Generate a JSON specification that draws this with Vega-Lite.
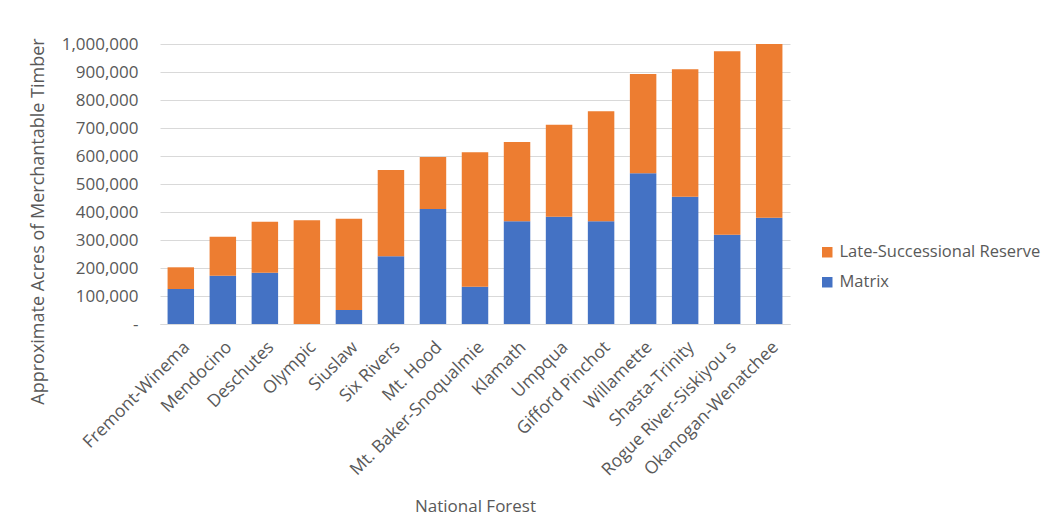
{
  "$schema": "https://vega.github.io/schema/vega-lite/v6.json",
  "width": 630,
  "height": 280,
  "autosize": "none",
  "padding": {"left": 160, "top": 44, "right": 263, "bottom": 200},
  "background": "white",
  "config": {
    "font": "Open Sans",
    "view": {"stroke": null},
    "axis": {"labelColor": "#595959", "titleColor": "#595959", "labelFont": "Open Sans", "titleFont": "Open Sans", "titleFontWeight": "normal"}
  },
  "data": {
    "values": [
      {"forest": "Fremont-Winema", "type": "Matrix", "acres": 125000, "ord": 0},
      {"forest": "Fremont-Winema", "type": "Late-Successional Reserve", "acres": 77500, "ord": 1},
      {"forest": "Mendocino", "type": "Matrix", "acres": 172600, "ord": 0},
      {"forest": "Mendocino", "type": "Late-Successional Reserve", "acres": 139400, "ord": 1},
      {"forest": "Deschutes", "type": "Matrix", "acres": 183300, "ord": 0},
      {"forest": "Deschutes", "type": "Late-Successional Reserve", "acres": 182200, "ord": 1},
      {"forest": "Olympic", "type": "Matrix", "acres": 0, "ord": 0},
      {"forest": "Olympic", "type": "Late-Successional Reserve", "acres": 370200, "ord": 1},
      {"forest": "Siuslaw", "type": "Matrix", "acres": 50000, "ord": 0},
      {"forest": "Siuslaw", "type": "Late-Successional Reserve", "acres": 326200, "ord": 1},
      {"forest": "Six Rivers", "type": "Matrix", "acres": 241700, "ord": 0},
      {"forest": "Six Rivers", "type": "Late-Successional Reserve", "acres": 308300, "ord": 1},
      {"forest": "Mt. Hood", "type": "Matrix", "acres": 410700, "ord": 0},
      {"forest": "Mt. Hood", "type": "Late-Successional Reserve", "acres": 185700, "ord": 1},
      {"forest": "Mt. Baker-Snoqualmie", "type": "Matrix", "acres": 133300, "ord": 0},
      {"forest": "Mt. Baker-Snoqualmie", "type": "Late-Successional Reserve", "acres": 479800, "ord": 1},
      {"forest": "Klamath", "type": "Matrix", "acres": 366700, "ord": 0},
      {"forest": "Klamath", "type": "Late-Successional Reserve", "acres": 283300, "ord": 1},
      {"forest": "Umpqua", "type": "Matrix", "acres": 383300, "ord": 0},
      {"forest": "Umpqua", "type": "Late-Successional Reserve", "acres": 328600, "ord": 1},
      {"forest": "Gifford Pinchot", "type": "Matrix", "acres": 366700, "ord": 0},
      {"forest": "Gifford Pinchot", "type": "Late-Successional Reserve", "acres": 392800, "ord": 1},
      {"forest": "Willamette", "type": "Matrix", "acres": 538100, "ord": 0},
      {"forest": "Willamette", "type": "Late-Successional Reserve", "acres": 354800, "ord": 1},
      {"forest": "Shasta-Trinity", "type": "Matrix", "acres": 454800, "ord": 0},
      {"forest": "Shasta-Trinity", "type": "Late-Successional Reserve", "acres": 454700, "ord": 1},
      {"forest": "Rogue River-Siskiyou s", "type": "Matrix", "acres": 319000, "ord": 0},
      {"forest": "Rogue River-Siskiyou s", "type": "Late-Successional Reserve", "acres": 654800, "ord": 1},
      {"forest": "Okanogan-Wenatchee", "type": "Matrix", "acres": 379800, "ord": 0},
      {"forest": "Okanogan-Wenatchee", "type": "Late-Successional Reserve", "acres": 620200, "ord": 1}
    ]
  },
  "mark": {"type": "bar"},
  "encoding": {
    "x": {
      "field": "forest",
      "type": "nominal",
      "sort": null,
      "scale": {"paddingInner": 0.37, "paddingOuter": 0.18},
      "axis": {
        "title": "National Forest",
        "titleFontSize": 17,
        "titlePadding": 20,
        "labelAngle": -45,
        "labelFontSize": 17.5,
        "labelPadding": 14,
        "labelLimit": 300,
        "ticks": false,
        "domainColor": "#d9d9d9",
        "grid": false
      }
    },
    "y": {
      "field": "acres",
      "type": "quantitative",
      "stack": "zero",
      "scale": {"domain": [0, 1000000], "nice": false},
      "axis": {
        "title": "Approximate Acres of Merchantable Timber",
        "titleFontSize": 18,
        "titleY": 177,
        "titleAlign": "center",
        "titlePadding": 14,
        "values": [0, 100000, 200000, 300000, 400000, 500000, 600000, 700000, 800000, 900000, 1000000],
        "labelExpr": "datum.value == 0 ? '-     ' : format(datum.value, ',')",
        "labelFontSize": 17,
        "labelPadding": 22,
        "ticks": false,
        "domain": false,
        "gridColor": "#d9d9d9"
      }
    },
    "color": {
      "field": "type",
      "type": "nominal",
      "scale": {"domain": ["Late-Successional Reserve", "Matrix"], "range": ["#ED7D31", "#4472C4"]},
      "legend": {
        "title": null,
        "orient": "none",
        "legendX": 659,
        "legendY": 200,
        "symbolType": "square",
        "symbolSize": 110,
        "symbolStrokeWidth": 0,
        "labelFontSize": 16.5,
        "labelColor": "#595959",
        "labelFont": "Open Sans",
        "rowPadding": 13,
        "labelLimit": 300
      }
    },
    "order": {"field": "ord", "type": "quantitative"}
  }
}
